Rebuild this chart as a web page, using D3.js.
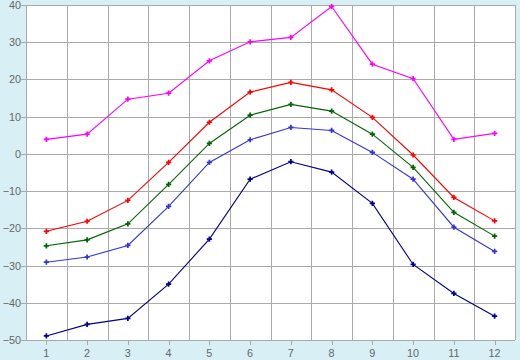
<!DOCTYPE html>
<html><head><meta charset="utf-8">
<script src="https://cdn.jsdelivr.net/npm/d3@7"></script>
<style>
html,body{margin:0;padding:0;background:#d9eff6;}
svg{display:block;}
</style></head>
<body>
<svg id="chart" width="520" height="360"></svg>
<script>
const categories = ["1","2","3","4","5","6","7","8","9","10","11","12"];
const yTicks = [-50,-40,-30,-20,-10,0,10,20,30,40];
const seriesNames = ["magenta","red","green","blue","navy"];
const seriesColors = ["#ff00ff","#ff0000","#006400","#3535d8","#00008b"];
const magentaValues = [3.9,5.3,14.7,16.3,25.0,30.1,31.3,39.6,24.1,20.2,3.9,5.5];
const redValues = [-20.8,-18.1,-12.5,-2.3,8.5,16.6,19.2,17.2,9.8,-0.3,-11.7,-18.0];
const greenValues = [-24.7,-23.1,-18.8,-8.2,2.8,10.4,13.3,11.5,5.3,-3.6,-15.7,-22.1];
const blueValues = [-29.1,-27.7,-24.6,-14.1,-2.3,3.8,7.1,6.3,0.4,-6.8,-19.7,-26.2];
const navyValues = [-48.9,-45.8,-44.2,-35.0,-22.9,-6.8,-2.1,-4.9,-13.3,-29.7,-37.5,-43.6];
const allValues = [magentaValues,redValues,greenValues,blueValues,navyValues];

const svg = d3.select("#chart");
const L = 26, R = 515, T = 5, B = 340;
const x = d3.scaleBand().domain(categories).range([L, R]).padding(0);
const y = d3.scaleLinear().domain([-50, 40]).range([B, T]);
const cx = c => x(c) + x.bandwidth() / 2;

const g = svg.append("g");
g.append("rect").attr("x", L).attr("y", T).attr("width", R - L).attr("height", B - T).attr("fill", "#fff");

const vb = categories.map(c => x(c)).concat([R]);
g.selectAll(".vg").data(vb).enter().append("line")
  .attr("x1", d => Math.round(d) + 0.5).attr("x2", d => Math.round(d) + 0.5)
  .attr("y1", T).attr("y2", B).attr("stroke", "#aaaaaa").attr("stroke-width", 1);
g.selectAll(".hg").data(yTicks).enter().append("line")
  .attr("x1", L - 5).attr("x2", R)
  .attr("y1", d => Math.round(y(d)) + 0.5).attr("y2", d => Math.round(y(d)) + 0.5)
  .attr("stroke", "#aaaaaa").attr("stroke-width", 1);
g.selectAll(".xt").data(categories).enter().append("line")
  .attr("x1", d => Math.round(cx(d)) + 0.5).attr("x2", d => Math.round(cx(d)) + 0.5)
  .attr("y1", B).attr("y2", B + 5).attr("stroke", "#aaaaaa").attr("stroke-width", 1);

g.selectAll(".yl").data(yTicks).enter().append("text")
  .attr("x", 21).attr("y", d => y(d) + 4)
  .attr("text-anchor", "end").attr("fill", "#666")
  .attr("font-family", "Liberation Sans, Arial, sans-serif").attr("font-size", 10.8)
  .text(d => d < 0 ? "\u2212" + Math.abs(d) : d);
g.selectAll(".xl").data(categories).enter().append("text")
  .attr("x", d => cx(d)).attr("y", 357)
  .attr("text-anchor", "middle").attr("fill", "#666")
  .attr("font-family", "Liberation Sans, Arial, sans-serif").attr("font-size", 10.8)
  .text(d => d);

const line = d3.line().x((d, i) => cx(categories[i])).y(d => y(d));
const sym = d3.symbol().type(d3.symbolCross).size(15);
allValues.forEach((vals, si) => {
  const col = seriesColors[si];
  g.append("path").datum(vals).attr("d", line).attr("fill", "none")
    .attr("stroke", col).attr("stroke-width", 1.1);
  g.selectAll(".m" + si).data(vals).enter().append("path")
    .attr("d", sym)
    .attr("transform", (d, i) => `translate(${cx(categories[i])},${y(d)})`)
    .attr("fill", col);
});
</script>
</body></html>
